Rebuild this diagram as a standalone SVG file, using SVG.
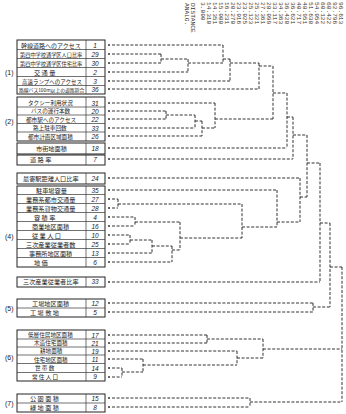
<svg xmlns="http://www.w3.org/2000/svg" width="346" height="414" viewBox="0 0 346 414">
<style>
.bx{fill:none;stroke:#222;stroke-width:1}
.ln{stroke:#333;stroke-width:0.7}
.lb{font-family:"Noto Sans CJK JP","Noto Sans",sans-serif;font-size:6.2px;fill:#222}
.sm{font-size:5.6px}
.nm{font-family:"Liberation Sans",sans-serif;font-size:6.5px;fill:#222;text-anchor:middle;font-style:italic}
.gl{font-family:"Liberation Sans",sans-serif;font-size:7px;fill:#222}
.hd{font-family:"Liberation Mono",monospace;font-size:6.2px;fill:#333}
.d{fill:none;stroke:#333;stroke-width:1;stroke-dasharray:3 1.6}
.st{fill:#333}
</style>
<rect width="346" height="414" fill="#fff"/>
<g id="header">
<text class="hd" transform="translate(185,3) rotate(90)">ANALG.</text>
<text class="hd" transform="translate(191,3) rotate(90)">DISTANCE</text>
<text class="hd" transform="translate(201,2) rotate(90)">3.000</text>
<text class="hd" transform="translate(207,2) rotate(90)">14.310</text>
<text class="hd" transform="translate(213,2) rotate(90)">14.351</text>
<text class="hd" transform="translate(219,2) rotate(90)">15.000</text>
<text class="hd" transform="translate(225,2) rotate(90)">16.231</text>
<text class="hd" transform="translate(231,2) rotate(90)">20.270</text>
<text class="hd" transform="translate(237,2) rotate(90)">23.016</text>
<text class="hd" transform="translate(243,2) rotate(90)">23.025</text>
<text class="hd" transform="translate(249,2) rotate(90)">25.123</text>
<text class="hd" transform="translate(255,2) rotate(90)">25.321</text>
<text class="hd" transform="translate(261,2) rotate(90)">27.361</text>
<text class="hd" transform="translate(267,2) rotate(90)">28.099</text>
<text class="hd" transform="translate(273,2) rotate(90)">33.117</text>
<text class="hd" transform="translate(279,2) rotate(90)">34.363</text>
<text class="hd" transform="translate(285,2) rotate(90)">36.420</text>
<text class="hd" transform="translate(291,2) rotate(90)">36.621</text>
<text class="hd" transform="translate(297,2) rotate(90)">40.717</text>
<text class="hd" transform="translate(303,2) rotate(90)">48.951</text>
<text class="hd" transform="translate(309,2) rotate(90)">51.638</text>
<text class="hd" transform="translate(315,2) rotate(90)">54.054</text>
<text class="hd" transform="translate(321,2) rotate(90)">60.122</text>
<text class="hd" transform="translate(327,2) rotate(90)">60.422</text>
<text class="hd" transform="translate(333,2) rotate(90)">92.796</text>
<text class="hd" transform="translate(339,2) rotate(90)">96.613</text>
</g>
<g id="group1">
<rect class="bx" x="17" y="40" width="88" height="54"/>
<line class="ln" x1="86" y1="40" x2="86" y2="94"/>
<line class="ln" x1="17" y1="49.5" x2="105" y2="49.5"/><line class="ln" x1="17" y1="58.5" x2="105" y2="58.5"/><line class="ln" x1="17" y1="67.5" x2="105" y2="67.5"/><line class="ln" x1="17" y1="76.5" x2="105" y2="76.5"/><line class="ln" x1="17" y1="85.5" x2="105" y2="85.5"/>
<text class="gl" x="5" y="75">(1)</text>
<text class="lb" x="21" y="47.5" style="font-size:6px">幹線道路へのアクセス</text><text class="nm" x="95" y="47.5">1</text>
<text class="lb" x="20" y="56.5" style="font-size:5.2px">第四中学校通学区人口比率</text><text class="nm" x="95" y="56.5">29</text>
<text class="lb" x="20" y="65.5" style="font-size:5.2px">第四中学校通学区住宅比率</text><text class="nm" x="95" y="65.5">30</text>
<text class="lb" x="34" y="74.5">交 通 量</text><text class="nm" x="95" y="74.5">2</text>
<text class="lb" x="22" y="83.5" style="font-size:5.5px">高速ランプへのアクセス</text><text class="nm" x="95" y="83.5">3</text>
<text class="lb" x="19" y="92" style="font-size:4.8px">路線バス100m以上の道路割合</text><text class="nm" x="95" y="92">36</text>
</g>
<g id="group2">
<rect class="bx" x="17" y="97" width="88" height="44"/>
<line class="ln" x1="86" y1="97" x2="86" y2="141"/>
<line class="ln" x1="17" y1="107" x2="105" y2="107"/><line class="ln" x1="17" y1="115" x2="105" y2="115"/><line class="ln" x1="17" y1="123.5" x2="105" y2="123.5"/><line class="ln" x1="17" y1="132" x2="105" y2="132"/>
<text class="gl" x="5" y="124">(2)</text>
<text class="lb sm" x="28" y="105">タクシー利用状況</text><text class="nm" x="95" y="105.5">31</text>
<text class="lb sm" x="31" y="113.3">バスの運行本数</text><text class="nm" x="95" y="113.5">20</text>
<text class="lb sm" x="26" y="121.5">都市駅へのアクセス</text><text class="nm" x="95" y="121.5">22</text>
<text class="lb sm" x="33" y="130">路上駐車回数</text><text class="nm" x="95" y="130.5">33</text>
<text class="lb sm" x="28" y="138.7">都市計画区域面積</text><text class="nm" x="95" y="139">26</text>
</g>
<g id="n12">
<rect class="bx" x="17" y="143" width="88" height="11"/><line class="ln" x1="86" y1="143" x2="86" y2="154"/>
<text class="lb" x="36" y="150.5">市街地面積</text><text class="nm" x="95" y="150.5">18</text>
</g>
<g id="n13">
<rect class="bx" x="17" y="155" width="88" height="10"/><line class="ln" x1="86" y1="155" x2="86" y2="165"/>
<text class="lb" x="30" y="162">道  路  率</text><text class="nm" x="95" y="162">7</text>
</g>
<g id="n14">
<rect class="bx" x="17" y="173" width="88" height="11"/><line class="ln" x1="86" y1="173" x2="86" y2="184"/>
<text class="lb" x="23" y="180.5">最寄駅距離人口比率</text><text class="nm" x="95" y="180.5">24</text>
</g>
<g id="group4">
<rect class="bx" x="17" y="186" width="88" height="81"/>
<line class="ln" x1="86" y1="186" x2="86" y2="267"/>
<line class="ln" x1="17" y1="194.5" x2="105" y2="194.5"/><line class="ln" x1="17" y1="203.5" x2="105" y2="203.5"/><line class="ln" x1="17" y1="212.5" x2="105" y2="212.5"/><line class="ln" x1="17" y1="221.5" x2="105" y2="221.5"/><line class="ln" x1="17" y1="230.5" x2="105" y2="230.5"/><line class="ln" x1="17" y1="239.5" x2="105" y2="239.5"/><line class="ln" x1="17" y1="248.5" x2="105" y2="248.5"/><line class="ln" x1="17" y1="257.5" x2="105" y2="257.5"/>
<text class="gl" x="5" y="239">(4)</text>
<text class="lb" x="36" y="192.5">駐車場容量</text><text class="nm" x="95" y="192.5">35</text>
<text class="lb" x="26" y="201.5">業務系都市交通量</text><text class="nm" x="95" y="201.5">27</text>
<text class="lb" x="26" y="210.5">業務系貨物交通量</text><text class="nm" x="95" y="210.5">28</text>
<text class="lb" x="34" y="219.5">容 積 率</text><text class="nm" x="95" y="219.5">4</text>
<text class="lb" x="32" y="228.5">商業地区面積</text><text class="nm" x="95" y="228.5">16</text>
<text class="lb" x="32" y="237.5">従 業 人 口</text><text class="nm" x="95" y="237.5">10</text>
<text class="lb" x="26" y="246.5">三次産業従業者数</text><text class="nm" x="95" y="246.5">25</text>
<text class="lb" x="29" y="255.5">事務所地区面積</text><text class="nm" x="95" y="255.5">13</text>
<text class="lb" x="34" y="264.5">地    価</text><text class="nm" x="95" y="264.5">6</text>
</g>
<g id="n24">
<rect class="bx" x="17" y="277" width="88" height="10"/><line class="ln" x1="86" y1="277" x2="86" y2="287"/>
<text class="lb" x="23" y="284">三次産業従業者比率</text><text class="nm" x="95" y="284">33</text>
</g>
<g id="group5">
<rect class="bx" x="17" y="299" width="88" height="18"/>
<line class="ln" x1="86" y1="299" x2="86" y2="317"/><line class="ln" x1="17" y1="308" x2="105" y2="308"/>
<text class="gl" x="5" y="311">(5)</text>
<text class="lb" x="32" y="305.5">工場地区面積</text><text class="nm" x="95" y="305.5">12</text>
<text class="lb" x="30" y="314.5">工 場 敷 地</text><text class="nm" x="95" y="314.5">5</text>
</g>
<g id="group6">
<rect class="bx" x="17" y="330" width="88" height="51"/>
<line class="ln" x1="86" y1="330" x2="86" y2="381"/>
<line class="ln" x1="17" y1="339" x2="105" y2="339"/><line class="ln" x1="17" y1="347" x2="105" y2="347"/><line class="ln" x1="17" y1="355" x2="105" y2="355"/><line class="ln" x1="17" y1="363.5" x2="105" y2="363.5"/><line class="ln" x1="17" y1="372.5" x2="105" y2="372.5"/>
<text class="gl" x="5" y="360">(6)</text>
<text class="lb sm" x="28" y="337">低層住居地区面積</text><text class="nm" x="95" y="337.5">17</text>
<text class="lb sm" x="34" y="345.3">木造住宅面積</text><text class="nm" x="95" y="345.5">21</text>
<text class="lb sm" x="40" y="353.3">耕地面積</text><text class="nm" x="95" y="353.5">19</text>
<text class="lb sm" x="34" y="361.5">住宅地区面積</text><text class="nm" x="95" y="361.5">11</text>
<text class="lb sm" x="35" y="370.3">世 帯 数</text><text class="nm" x="95" y="370.5">14</text>
<text class="lb sm" x="32" y="379">常 住 人 口</text><text class="nm" x="95" y="379">9</text>
</g>
<g id="group7">
<rect class="bx" x="17" y="394" width="88" height="18"/>
<line class="ln" x1="86" y1="394" x2="86" y2="412"/><line class="ln" x1="17" y1="403" x2="105" y2="403"/>
<text class="gl" x="5" y="406">(7)</text>
<text class="lb" x="30" y="400.5">公 園 面 積</text><text class="nm" x="95" y="400.5">15</text>
<text class="lb" x="30" y="409.5">緑 地 面 積</text><text class="nm" x="95" y="409.5">8</text>
</g>
<g id="connectors">
<g class="st">
<circle cx="109" cy="45" r="1"/><circle cx="109" cy="54" r="1"/><circle cx="109" cy="63" r="1"/><circle cx="109" cy="72" r="1"/><circle cx="109" cy="81" r="1"/><circle cx="109" cy="89" r="1"/>
<circle cx="109" cy="103" r="1"/><circle cx="109" cy="111" r="1"/><circle cx="109" cy="119" r="1"/><circle cx="109" cy="128" r="1"/><circle cx="109" cy="136" r="1"/>
<circle cx="109" cy="148" r="1"/><circle cx="109" cy="159" r="1"/><circle cx="109" cy="178" r="1"/>
<circle cx="109" cy="190" r="1"/><circle cx="109" cy="199" r="1"/><circle cx="109" cy="208" r="1"/><circle cx="109" cy="217" r="1"/><circle cx="109" cy="226" r="1"/><circle cx="109" cy="235" r="1"/><circle cx="109" cy="244" r="1"/><circle cx="109" cy="253" r="1"/><circle cx="109" cy="262" r="1"/>
<circle cx="109" cy="282" r="1"/><circle cx="109" cy="303" r="1"/><circle cx="109" cy="312" r="1"/>
<circle cx="109" cy="335" r="1"/><circle cx="109" cy="343" r="1"/><circle cx="109" cy="351" r="1"/><circle cx="109" cy="359" r="1"/><circle cx="109" cy="368" r="1"/><circle cx="109" cy="377" r="1"/>
<circle cx="109" cy="398" r="1"/><circle cx="109" cy="407" r="1"/>
</g>
<path class="d" d="M112 45H223 M112 54H161 M112 63H161 M112 72H188 M112 81H230 M112 89H259
M161 54V63 M161 59H188 M188 59V72 M188 63H223 M223 45V63 M223 59H230 M230 59V81 M230 63H259 M259 63V89 M259 66H273"/>
<path class="d" d="M112 103H215 M112 111H166 M112 119H166 M112 128H195 M112 136H202
M166 111V119 M166 115H195 M195 115V128 M195 121H202 M202 121V136 M202 128H215 M215 103V128 M215 119H273"/>
<path class="d" d="M273 66V119 M273 93H287 M112 148H287 M287 93V148 M287 117H293 M112 159H293 M293 117V159 M293 135H307"/>
<path class="d" d="M112 178H300 M112 190H277 M112 199H118 M112 208H118 M118 199V208 M118 204H242
M112 217H135 M112 226H135 M135 217V226 M135 222H180
M112 235H130 M112 244H130 M130 235V244 M130 240H152 M112 253H152 M152 240V253 M152 246H172 M112 262H172 M172 246V262 M172 250H180
M180 222V250 M180 238H242 M242 204V238 M242 227H277 M277 190V227 M277 222H300 M300 178V222 M300 197H307"/>
<path class="d" d="M307 135V197 M307 163H320 M112 282H320 M320 163V282 M320 223H330
M112 303H313 M112 312H313 M313 303V312 M313 307H330 M330 223V307 M330 267H342"/>
<path class="d" d="M112 335H207 M112 343H207 M207 335V343 M207 339H263 M112 351H237
M112 359H143 M112 368H122 M112 377H122 M122 368V377 M122 372H143 M143 359V372 M143 365H237 M237 351V365 M237 358H263 M263 339V358 M263 349H342
M112 398H250 M112 407H250 M250 398V407 M250 402H342 M342 267V402"/>
</g>
</svg>
